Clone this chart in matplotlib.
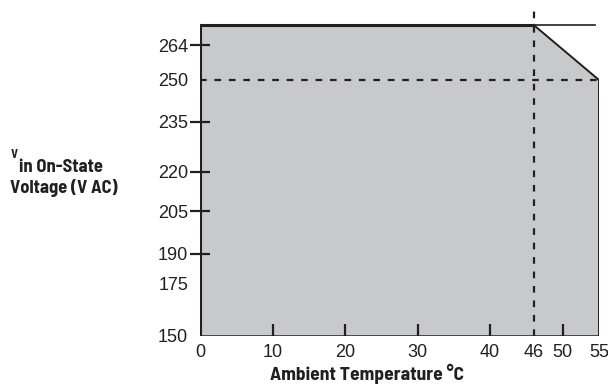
import numpy as np
import matplotlib
matplotlib.use("Agg")
import matplotlib.pyplot as plt

# ---- data ----
temps = [0, 46, 55]              # ambient temperature breakpoints (°C)
v_max = 272                      # upper operating line (V AC)
v_derated = 250                  # derated voltage at 55 °C
v_min = 150
x_ticks = [0, 10, 20, 30, 40, 46, 50, 55]
x_ticks_no_mark = [0, 46, 55]
y_ticks = [150, 175, 190, 205, 220, 235, 250, 264]
y_ticks_no_mark = [150, 175, 250]

# schematic (non-linear) voltage axis: value -> relative position
scale_vals = [150, 175, 190, 205, 220, 235, 250, 264, 272, 280]
scale_pos = [0, 52, 82, 125, 164, 214, 256, 291, 311, 331]

def fwd(v):
    return np.interp(v, scale_vals, scale_pos)

def inv(p):
    return np.interp(p, scale_pos, scale_vals)

INK = "#231f20"
FILL = "#c8c9cb"
W, H = 608, 384

fig = plt.figure(figsize=(W / 100, H / 100), dpi=100)
ax = fig.add_axes([200 / W, 48 / H, 399 / W, (336 - 8) / H])
ax.set_yscale("function", functions=(fwd, inv))
ax.set_xlim(0, 55)
ax.set_ylim(v_min, inv(328))

# filled operating region
xs = [temps[0], temps[0], temps[1], temps[2], temps[2]]
ys = [v_min, v_max, v_max, v_derated, v_min]
ax.fill(xs, ys, color=FILL, lw=0, zorder=1)

# borders
ax.plot([temps[0], temps[0], temps[1]], [v_min, v_max, v_max], color=INK, lw=2.2,
        solid_joinstyle="miter", solid_capstyle="butt", zorder=3)
ax.plot([temps[0], temps[2]], [v_min, v_min], color=INK, lw=1.8,
        solid_capstyle="projecting", zorder=3)
ax.plot([temps[1], temps[2]], [v_max, v_derated], color=INK, lw=1.4, zorder=3)
ax.plot([temps[2], temps[2]], [v_derated, v_min], color=INK, lw=1.4, zorder=3)
ax.plot([temps[1], 54.4], [v_max, v_max], color=INK, lw=1.2, zorder=3)

# dashed guides
ax.plot([temps[0], temps[2]], [v_derated, v_derated], color=INK, lw=1.6,
        dashes=(3, 3.5), zorder=2)
ax.plot([temps[1], temps[1]], [v_min, inv(328)], color=INK, lw=1.6,
        dashes=(3, 3.5), zorder=2)

for s in ax.spines.values():
    s.set_visible(False)
ax.set_facecolor("none")

ax.set_xticks(x_ticks)
ax.set_xticklabels([str(t) for t in x_ticks])
ax.set_yticks(y_ticks)
ax.set_yticklabels([str(t) for t in y_ticks])
ax.yaxis.set_minor_locator(matplotlib.ticker.NullLocator())
ax.xaxis.set_minor_locator(matplotlib.ticker.NullLocator())

ax.tick_params(axis="x", direction="in", length=9, width=1.6, color=INK,
               labelsize=13, labelcolor=INK, pad=6)
ax.tick_params(axis="y", direction="inout", length=15, width=1.6, color=INK,
               labelsize=13, labelcolor=INK, pad=1)
for t, tick in zip(x_ticks, ax.xaxis.get_major_ticks()):
    if t in x_ticks_no_mark:
        tick.tick1line.set_visible(False)
for t, tick in zip(y_ticks, ax.yaxis.get_major_ticks()):
    if t in y_ticks_no_mark:
        tick.tick1line.set_visible(False)
for lbl in ax.get_xticklabels() + ax.get_yticklabels():
    lbl.set_family(["Liberation Sans", "DejaVu Sans"])

bold = dict(family=["Barlow Semi Condensed", "DejaVu Sans"],
            weight="bold", color=INK)
fig.text(367 / W, 1 - 380 / H, "Ambient Temperature °C", ha="center",
         va="baseline", fontsize=14, **bold)
fig.text(11 / W, 1 - 158 / H, "V", ha="left", va="baseline", fontsize=9, **bold)
fig.text(19 / W, 1 - 172 / H, "in On-State", ha="left", va="baseline",
         fontsize=13.3, **bold)
fig.text(10 / W, 1 - 193 / H, "Voltage (V AC)", ha="left", va="baseline",
         fontsize=13.3, **bold)

fig.savefig("out.png", dpi=100)
